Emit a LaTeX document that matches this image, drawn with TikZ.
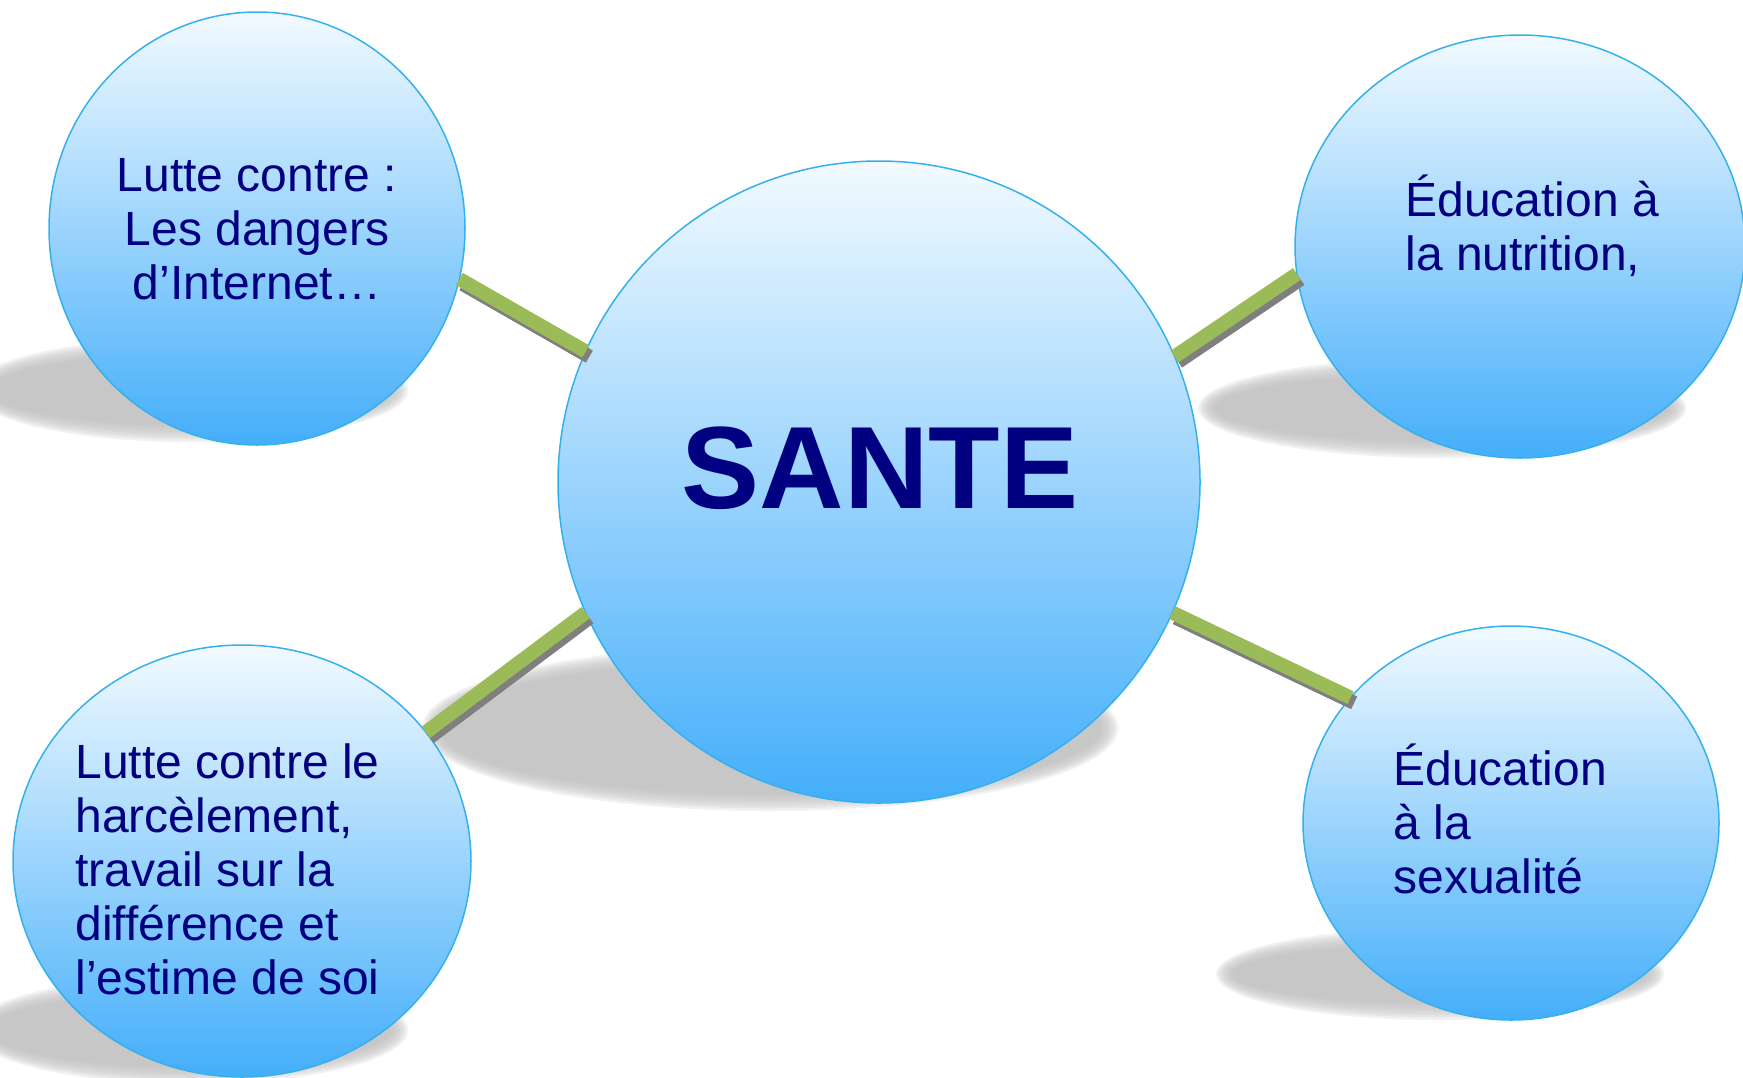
\documentclass[tikz,border=0pt]{standalone}
\usepackage{fontspec}
\setmainfont{Liberation Sans}
\usetikzlibrary{shapes.geometric}
\definecolor{navy}{HTML}{000080}
\definecolor{ring}{HTML}{35B0EE}
\definecolor{topc}{HTML}{F2FAFF}
\definecolor{midc}{HTML}{A5D7FD}
\definecolor{botc}{HTML}{44AEFA}
\definecolor{barg}{HTML}{9BBB59}
\definecolor{bars}{HTML}{7F7F7F}
\definecolor{shad}{HTML}{BEBEBE}
\newcommand\softshadow[4]{%
  \foreach \k in {0,...,7}{\fill[shad, opacity=0.22] (#1,#2) ellipse ({#3-2.5*\k} and {#4-2.5*\k});}}
\begin{document}
\begin{tikzpicture}[x=0.5pt,y=-0.5pt,
  bubble/.style={ellipse, draw=ring, line width=0.75pt, top color=topc, middle color=midc, bottom color=botc, inner sep=0pt, outer sep=0pt},
  bar/.style={draw=barg, line width=7pt},
  barshadow/.style={draw=bars, line width=7pt, transform canvas={shift={(1.8pt,-2.6pt)}}},
  lbl/.style={text=navy, font=\fontsize{24pt}{27pt}\selectfont, inner sep=0pt},
]
\useasboundingbox (0,0) rectangle (1743,1077);
% shadows
\softshadow{190}{390}{218}{52}
\softshadow{770}{728}{348}{83}
\softshadow{1442}{408}{244}{50}
\softshadow{1440}{974}{224}{46}
\softshadow{190}{1030}{218}{54}
% bubbles
\node[bubble, minimum width=321pt, minimum height=321pt] (c) at (879,482) {};
\node[bubble, minimum width=208pt, minimum height=216.5pt] (tl) at (257,228.5) {};
\node[bubble, minimum width=225pt, minimum height=211.5pt] (tr) at (1520,246.5) {};
\node[bubble, minimum width=229pt, minimum height=216pt] (bl) at (242,861) {};
\node[bubble, minimum width=208pt, minimum height=197pt] (br) at (1511,823) {};
% connectors
\draw[barshadow] (tl.-14) -- (c.156.5);
\draw[bar] (tl.-14) -- (c.156.5);
\draw[barshadow] (c.23.5) -- (tr.187);
\draw[bar] (c.23.5) -- (tr.187);
\draw[barshadow] (bl.35.5) -- (c.204);
\draw[bar] (bl.35.5) -- (c.204);
\draw[barshadow] (c.-24) -- (br.142.6);
\draw[bar] (c.-24) -- (br.142.6);
% texts
\node[text=navy, font=\fontsize{58.5pt}{60pt}\selectfont\bfseries, inner sep=0pt, anchor=base] (sante) at (880,508) {SANTE};
\node[lbl, anchor=base] (tltxt) at (257,191) {\parbox[t]{10cm}{\centering Lutte contre :\\Les dangers\\d’Internet…}};
\node[lbl, anchor=base west] (trtxt) at (1405,216) {\parbox[t]{10cm}{\raggedright Éducation à\\la nutrition,}};
\node[lbl, anchor=base west] (bltxt) at (75,778) {\parbox[t]{10cm}{\raggedright Lutte contre le\\harcèlement,\\travail sur la\\différence et\\l’estime de soi}};
\node[lbl, anchor=base west] (brtxt) at (1393,785) {\parbox[t]{10cm}{\raggedright Éducation\\à la\\sexualité}};
\end{tikzpicture}
\end{document}
